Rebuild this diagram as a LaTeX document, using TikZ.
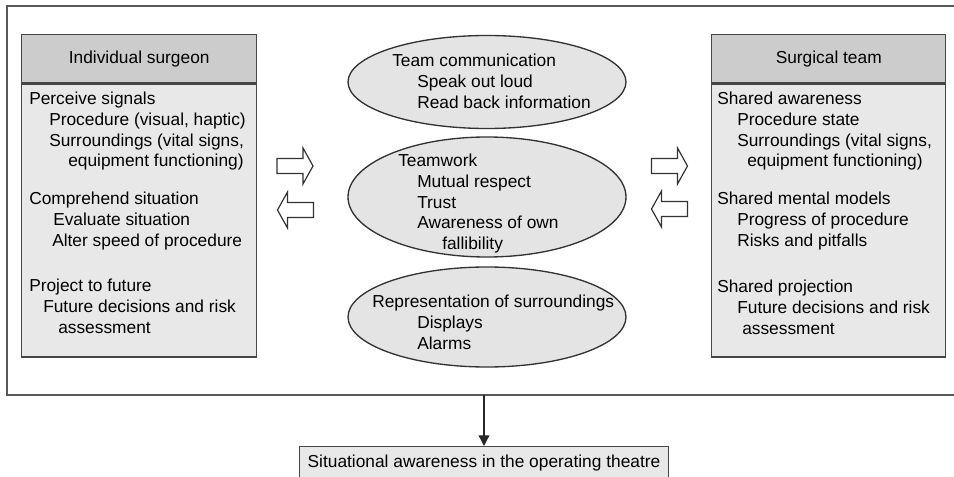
\documentclass[tikz,border=0pt]{standalone}
\usepackage{fontspec}
\setmainfont{Liberation Sans}
\usepackage{xcolor}
\usepackage{tikz}
\usetikzlibrary{shapes.geometric, arrows.meta}
\definecolor{hdrgray}{RGB}{204,204,204}
\definecolor{bodygray}{RGB}{232,232,232}
\definecolor{ellgray}{RGB}{228,228,228}
\definecolor{edgegray}{RGB}{70,70,70}
\tikzset{every node/.append style={font=\fontsize{13}{15.45}\selectfont}}
\tikzset{blockarrow/.pic={
    \draw[black!80, line width=0.9pt, fill=white, line join=miter]
        (-18,-7.5) -- (8,-7.5) -- (8,-18) -- (18,0) -- (8,18) -- (8,7.5) -- (-18,7.5) -- cycle;}}

\begin{document}
\begin{tikzpicture}[x=0.75pt, y=-0.75pt, >={Triangle[length=8pt, width=8pt]},
    hdr/.style={draw=edgegray, line width=1.1pt, fill=hdrgray, minimum height=36pt, inner sep=0pt},
    panel/.style={draw=edgegray, line width=1.1pt, fill=bodygray, minimum height=204.75pt, inner sep=0pt},
    bubble/.style={ellipse, draw=black!80, line width=1pt, fill=ellgray, minimum width=208.5pt, inner sep=0pt},
    items/.style={anchor=north west, align=left, inner sep=0pt}]
    \useasboundingbox (0,0) rectangle (954,477);
    \clip (0,0) rectangle (954,477);
    % open frame, runs off the right edge
    \draw[black!65, line width=1.4pt] (970,6) -| (7,395) -- (970,395);
    \coordinate (framebot) at (484,395);

    % individual surgeon
    \node[hdr, minimum width=176.25pt, anchor=north west] (surghead) at (21,34) {Individual surgeon};
    \node[panel, minimum width=176.25pt, anchor=north] (surgbody) at (surghead.south) {};
    \node[items] (perceive) at (29,92) {Perceive signals\\\hspace*{15pt}Procedure (visual, haptic)\\
        \hspace*{15pt}Surroundings (vital signs,\\\hspace*{29.25pt}equipment functioning)};
    \node[items] (comprehend) at (29,192) {Comprehend situation\\\hspace*{18pt}Evaluate situation\\
        \hspace*{17.25pt}Alter speed of procedure};
    \node[items] (project) at (29,279) {Project to future\\\hspace*{10.5pt}Future decisions and risk\\
        \hspace*{21.75pt}assessment};

    % surgical team
    \node[hdr, minimum width=175.5pt, anchor=north west] (teamhead) at (711,34) {Surgical team};
    \node[panel, minimum width=175.5pt, anchor=north] (teambody) at (teamhead.south) {};
    \node[items] (sharedaw) at (717,92) {Shared awareness\\\hspace*{15pt}Procedure state\\
        \hspace*{15pt}Surroundings (vital signs,\\\hspace*{22.5pt}equipment functioning)};
    \node[items] (sharedmm) at (717,192) {Shared mental models\\\hspace*{15pt}Progress of procedure\\
        \hspace*{15pt}Risks and pitfalls};
    \node[items] (sharedpr) at (717,280) {Shared projection\\\hspace*{15pt}Future decisions and risk\\
        \hspace*{18.75pt}assessment};

    % middle ellipses
    \node[bubble, minimum height=69.75pt] (comm) at (487,82) {};
    \node[bubble, minimum height=90pt] (work) at (487,197) {};
    \node[bubble, minimum height=75pt] (repr) at (487,317) {};
    \node[items] (commtext) at (392,54) {Team communication\\\hspace*{18.75pt}Speak out loud\\
        \hspace*{18.75pt}Read back information};
    \node[items] (worktext) at (398,154) {Teamwork\\\hspace*{14.25pt}Mutual respect\\\hspace*{14.25pt}Trust\\
        \hspace*{14.25pt}Awareness of own\\\hspace*{33pt}fallibility};
    \node[items] (reprtext) at (372,295) {Representation of surroundings\\\hspace*{33.75pt}Displays\\
        \hspace*{33.75pt}Alarms};

    % block arrows
    \pic at (295,166) {blockarrow};
    \pic[rotate=180] at (295.5,210) {blockarrow};
    \pic at (669.5,166) {blockarrow};
    \pic[rotate=180] at (669.5,209) {blockarrow};

    % result
    \node[draw=edgegray, line width=1.1pt, fill=bodygray, minimum width=276.75pt, inner sep=0pt,
        text height=15.75pt, text depth=13.5pt, anchor=north] (aware) at (484,446)
        {Situational awareness in the operating theatre};
    \draw[->, line width=1pt, black!85] (framebot) -- (aware.north);
\end{tikzpicture}
\end{document}
